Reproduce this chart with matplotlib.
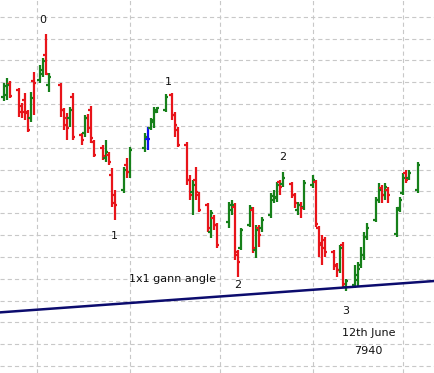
import matplotlib
matplotlib.use("Agg")
import matplotlib.pyplot as plt
import matplotlib.dates as mdates
import pandas as pd

plt.rcParams["lines.scale_dashes"] = False

# daily bars (index points)
dates = ["2015-02-18", "2015-02-19", "2015-02-20", "2015-02-23", "2015-02-24",
         "2015-02-25", "2015-02-26", "2015-02-27", "2015-02-28",
         "2015-03-02", "2015-03-03", "2015-03-04", "2015-03-05",
         "2015-03-09", "2015-03-10", "2015-03-11", "2015-03-12", "2015-03-13",
         "2015-03-16", "2015-03-17", "2015-03-18", "2015-03-19", "2015-03-20",
         "2015-03-23", "2015-03-24", "2015-03-25", "2015-03-26", "2015-03-27",
         "2015-03-30", "2015-03-31", "2015-04-01",
         "2015-04-06", "2015-04-07", "2015-04-08", "2015-04-09", "2015-04-10",
         "2015-04-13", "2015-04-15", "2015-04-16", "2015-04-17",
         "2015-04-20", "2015-04-21", "2015-04-22", "2015-04-23", "2015-04-24",
         "2015-04-27", "2015-04-28", "2015-04-29", "2015-04-30",
         "2015-05-04", "2015-05-05", "2015-05-06", "2015-05-07", "2015-05-08",
         "2015-05-11", "2015-05-12", "2015-05-13", "2015-05-14", "2015-05-15",
         "2015-05-18", "2015-05-19", "2015-05-20", "2015-05-21", "2015-05-22",
         "2015-05-25", "2015-05-26", "2015-05-27", "2015-05-28", "2015-05-29",
         "2015-06-01", "2015-06-02", "2015-06-03", "2015-06-04", "2015-06-05",
         "2015-06-08", "2015-06-09", "2015-06-10", "2015-06-11", "2015-06-12",
         "2015-06-15", "2015-06-16", "2015-06-17", "2015-06-18", "2015-06-19",
         "2015-06-22", "2015-06-23", "2015-06-24", "2015-06-25", "2015-06-26",
         "2015-06-29", "2015-06-30", "2015-07-01", "2015-07-02", "2015-07-03",
         "2015-07-06"]

opens = [8832, 8841, 8892, 8864, 8791, 8818, 8763, 8736, 8905,
         8910, 8938, 9024, 8887,
         8887, 8773, 8736, 8736, 8832,
         8658, 8667, 8736, 8773, 8626,
         8598, 8553, 8566, 8475, 8383,
         8406, 8521, 8489,
         8598, 8640, 8690, 8718, 8763,
         8773, 8841, 8750, 8681,
         8612, 8452, 8397, 8452, 8383,
         8337, 8214, 8278, 8246,
         8260, 8315, 8328, 8109, 8140,
         8246, 8315, 8131, 8232, 8232,
         8292, 8360, 8369, 8443, 8434,
         8434, 8383, 8315, 8337, 8328,
         8429, 8443, 8232, 8163, 8177,
         8122, 8063, 8040, 8154, 7962,
         7971, 7995, 8063, 8108, 8191,
         8269, 8360, 8415, 8383, 8406,
         8205, 8324, 8392, 8484, 8461,
         8406]

highs = [8896, 8919, 8905, 8873, 8805, 8850, 8773, 8855, 8947,
         8979, 9011, 9121, 8942,
         8896, 8782, 8759, 8787, 8850,
         8667, 8750, 8754, 8791, 8635,
         8612, 8635, 8580, 8507, 8406,
         8512, 8553, 8603,
         8667, 8695, 8736, 8787, 8787,
         8846, 8850, 8763, 8695,
         8626, 8475, 8452, 8512, 8397,
         8346, 8315, 8292, 8255,
         8351, 8360, 8346, 8131, 8232,
         8337, 8328, 8246, 8246, 8282,
         8392, 8406, 8443, 8452, 8489,
         8443, 8392, 8351, 8351, 8452,
         8475, 8452, 8241, 8200, 8191,
         8131, 8072, 8154, 8168, 7999,
         8063, 8077, 8145, 8214, 8255,
         8374, 8438, 8429, 8438, 8420,
         8328, 8374, 8484, 8498, 8498,
         8534]

lows = [8814, 8818, 8828, 8740, 8736, 8727, 8672, 8718, 8750,
        8896, 8924, 8933, 8855,
        8740, 8681, 8635, 8695, 8635,
        8612, 8649, 8667, 8621, 8557,
        8544, 8534, 8521, 8328, 8269,
        8393, 8461, 8461,
        8580, 8589, 8681, 8690, 8759,
        8763, 8727, 8649, 8603,
        8429, 8360, 8291, 8360, 8305,
        8214, 8186, 8223, 8140,
        8232, 8291, 8086, 8008, 8131,
        8237, 8117, 8095, 8145, 8214,
        8278, 8346, 8351, 8383, 8420,
        8369, 8323, 8291, 8278, 8315,
        8415, 8237, 8099, 8063, 8099,
        8040, 8008, 8026, 7962, 7944,
        7958, 7962, 8049, 8086, 8177,
        8259, 8346, 8346, 8360, 8346,
        8191, 8305, 8383, 8438, 8452,
        8392]

closes = [8882, 8887, 8837, 8763, 8763, 8759, 8681, 8828, 8896,
          8956, 8997, 8938, 8924,
          8773, 8704, 8690, 8773, 8649,
          8635, 8736, 8690, 8644, 8566,
          8562, 8580, 8534, 8346, 8337,
          8498, 8489, 8589,
          8649, 8640, 8727, 8773, 8782,
          8832, 8750, 8704, 8612,
          8452, 8383, 8429, 8397, 8315,
          8232, 8301, 8246, 8154,
          8337, 8337, 8122, 8077, 8223,
          8324, 8140, 8223, 8200, 8269,
          8379, 8374, 8429, 8420, 8461,
          8383, 8346, 8337, 8324, 8438,
          8452, 8250, 8154, 8140, 8122,
          8058, 8040, 8140, 7976, 7990,
          8017, 8045, 8108, 8191, 8232,
          8360, 8406, 8383, 8420, 8383,
          8315, 8360, 8461, 8452, 8484,
          8521]

# 1x1 gann line end points
gann_dates = ["2015-02-16", "2015-07-12"]
gann_prices = [7845, 7990]

UP = "#16801a"
DOWN = "#e8141a"
FLAT = "#1010f0"

days = mdates.date2num(pd.to_datetime(dates))
colours = []
for o, c in zip(opens, closes):
    if c > o:
        colours.append(UP)
    elif c < o:
        colours.append(DOWN)
    else:
        colours.append(FLAT)

fig = plt.figure(figsize=(4.35, 3.73), dpi=100)
ax = fig.add_axes([0, 0, 1, 1])

ax.vlines(days, lows, highs, colors=colours, linewidth=1.6, zorder=3)
ax.hlines(opens, days - 0.9, days, colors=colours, linewidth=1.6, zorder=3)
ax.hlines(closes, days, days + 0.9, colors=colours, linewidth=1.6, zorder=3)

gx = mdates.date2num(pd.to_datetime(gann_dates))
ax.plot(gx, gann_prices, color="#0c0c6e", linewidth=1.8, zorder=4)

# swing labels hung off the bars
def swing(label, day, price, dy):
    ax.annotate(label, (mdates.date2num(pd.Timestamp(day)), price),
                xytext=(0, dy), textcoords="offset points",
                ha="center", va="center", fontsize=8, color="#111111")

swing("0", "2015-03-03 03:00", 9121, 10)
swing("1", "2015-03-27", 8269, -11.5)
swing("1", "2015-04-14 00:00", 8846, 8.6)
swing("2", "2015-05-07", 8008, -5.8)
swing("2", "2015-05-22", 8489, 10.8)
swing("3", "2015-06-12", 7944, -14.4)

ax.text(pd.Timestamp("2015-03-31 18:00"), 7998, "1x1 gann angle",
        ha="left", va="center", fontsize=8, color="#111111")
ax.text(pd.Timestamp("2015-06-19 20:00"), 7751, "12th June",
        ha="center", va="center", fontsize=8, color="#111111")
ax.text(pd.Timestamp("2015-06-19 16:00"), 7669, "7940",
        ha="center", va="center", fontsize=8, color="#111111")

left = mdates.date2num(pd.Timestamp("2015-03-01")) - 12.23
ax.set_xlim(left, left + 145.0)
ax.set_ylim(7568, 9277)

ax.xaxis.set_major_locator(mdates.MonthLocator())
ax.set_yticks(range(7600, 9300, 100))
ax.tick_params(length=0, labelbottom=False, labelleft=False)
ax.grid(True, color="#c8c8c8", linestyle=(0, (3.0, 2.2)), linewidth=0.8)
ax.set_axisbelow(True)
for s in ax.spines.values():
    s.set_visible(False)

fig.savefig("out.png", dpi=100)
